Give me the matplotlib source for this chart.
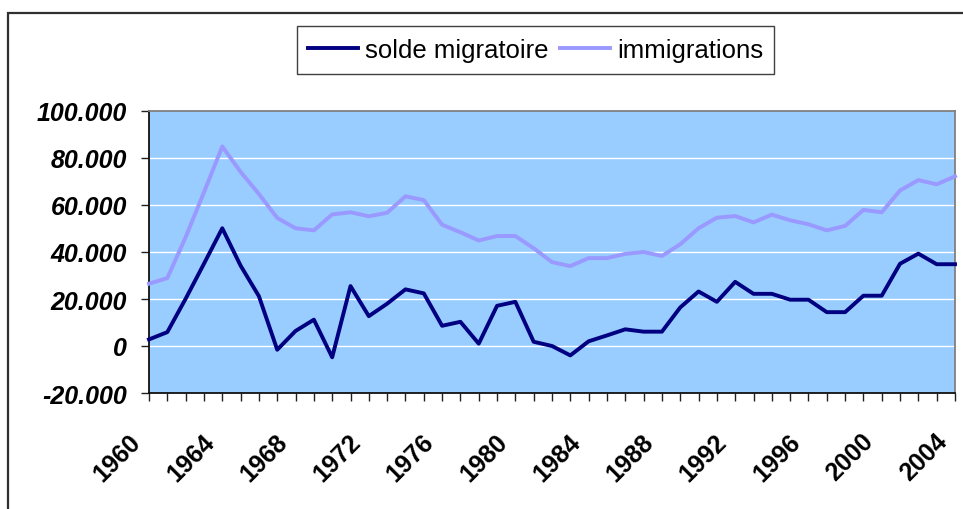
import matplotlib
matplotlib.use('Agg')
import matplotlib.pyplot as plt
import matplotlib.patches as patches
import matplotlib.transforms as mtransforms

# valeurs
years = list(range(1960, 2005))
solde_migratoire = [2800, 5900, 20100, 35000, 50100, 34200, 21200, -1600, 6400, 11200,
                    -4800, 25500, 12700, 18000, 24100, 22400, 8600, 10300, 1000, 17100,
                    18800, 1800, 0, -4000, 2000, 4500, 7100, 6100, 6100, 16400,
                    23200, 18800, 27300, 22200, 22200, 19700, 19700, 14400, 14400, 21400,
                    21400, 35000, 39300, 34800, 34800]
immigrations = [26500, 28900, 46300, 65400, 84900, 74100, 64700, 54500, 50100, 49200,
                56000, 56900, 55200, 56700, 63700, 62100, 51600, 48400, 44900, 46800,
                46800, 41600, 35700, 34000, 37400, 37400, 39200, 40000, 38300, 43300,
                50100, 54600, 55300, 52600, 55900, 53500, 51800, 49200, 51100, 57900,
                56900, 66200, 70600, 68800, 72200]
series_labels = ['solde migratoire', 'immigrations']
y_ticks = [-20000, 0, 20000, 40000, 60000, 80000, 100000]

W, H = 963, 510
fig = plt.figure(figsize = (W / 100, H / 100), dpi = 100)
fig.patch.set_facecolor('white')
ax = fig.add_axes([149 / W, 1 - 394 / H, 806 / W, 282 / H])
ax.set_facecolor('#99CCFF')

l1, = ax.plot(years, solde_migratoire, c = '#000080', lw = 2.8, solid_joinstyle = 'round', clip_on = False, zorder = 4)
l2, = ax.plot(years, immigrations, c = '#9999FF', lw = 2.8, solid_joinstyle = 'round', clip_on = False, zorder = 3)

ax.set_xlim(years[0], years[-1])
ax.set_ylim(-20000, 100000)

ax.set_yticks(y_ticks)
def fmt(v):
    if v == 0:
        return '0'
    return ('-' if v < 0 else '') + '{:,}'.format(abs(v)).replace(',', '.')
ax.set_yticklabels([fmt(v) for v in y_ticks], fontsize = 18, fontweight = 'bold', fontstyle = 'italic',
                   family = 'Liberation Sans')
for v in y_ticks[1:-1]:
    ax.axhline(v, c = 'white', lw = 1.0, zorder = 1)

ax.set_xticks(years)
ax.set_xticklabels([str(y) if (y - 1960) % 4 == 0 else '' for y in years], rotation = 45,
                   ha = 'right', va = 'center', rotation_mode = 'anchor',
                   fontsize = 18, fontweight = 'bold', family = 'Liberation Sans')

ax.tick_params(axis = 'x', direction = 'out', length = 6, width = 1, color = '#202020', pad = 28)
ax.tick_params(axis = 'y', direction = 'out', length = 6, width = 1, color = '#202020', pad = 10)

# decalage des etiquettes (apres tick_params, qui remet les transforms a zero)
offset = mtransforms.ScaledTranslation(-12 / 100, 3 / 100, fig.dpi_scale_trans)
for lab in ax.get_xticklabels():
    lab.set_transform(lab.get_transform() + offset)

ax.spines['left'].set_color('#101010')
ax.spines['bottom'].set_color('#101010')
ax.spines['left'].set_linewidth(1.3)
ax.spines['bottom'].set_linewidth(1.3)
ax.spines['top'].set_color('#808080')
ax.spines['right'].set_color('#808080')
ax.spines['top'].set_linewidth(1.3)
ax.spines['right'].set_linewidth(1.3)

leg = fig.legend([l1, l2], series_labels, loc = 'center', ncol = 2,
                 bbox_to_anchor = (535.5 / W, 1 - 51 / H), bbox_transform = fig.transFigure,
                 prop = {'family': 'Liberation Sans', 'size': 18.5},
                 handlelength = 1.95, handletextpad = 0.27, columnspacing = 0.43,
                 borderpad = 0.45, fancybox = False, framealpha = 1, edgecolor = '#404040')
leg.get_frame().set_linewidth(1.0)

# cadre exterieur (coupe a droite et en bas)
border = patches.Rectangle((8 / W, -0.1), 2, 1.1 - 14 / H, transform = fig.transFigure,
                           fill = False, edgecolor = '#303030', lw = 1.6, clip_on = False)
fig.patches.append(border)

fig.savefig('out.png', dpi = 100)
